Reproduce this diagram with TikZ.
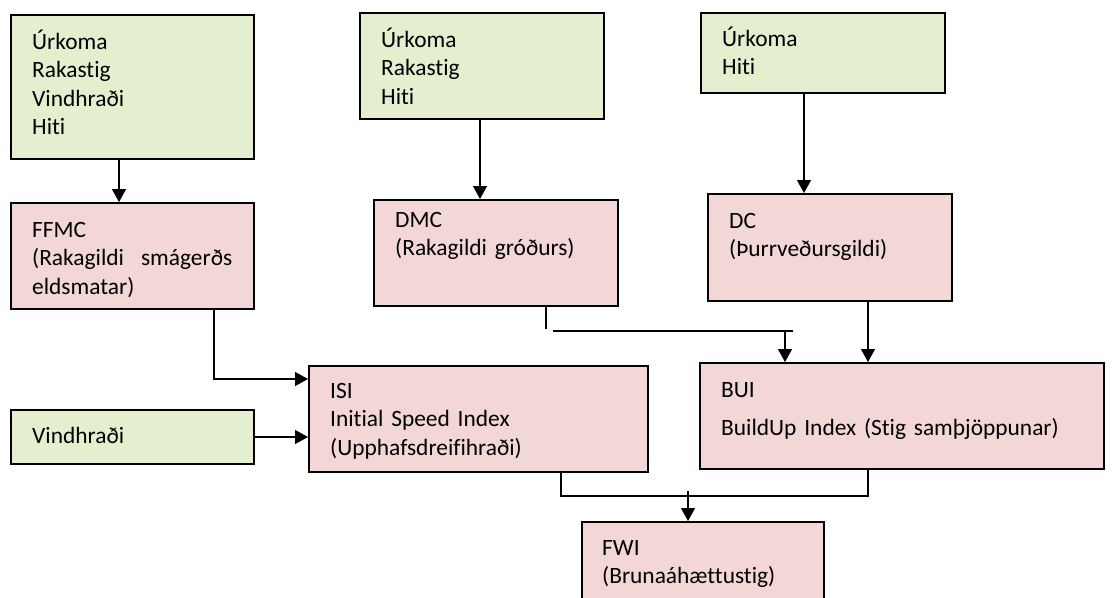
\documentclass[tikz,border=0pt]{standalone}
\usepackage{fontspec}
\setmainfont{Carlito}[Ligatures={NoCommon}]
\usetikzlibrary{arrows.meta,calc}
\definecolor{gfill}{RGB}{227,239,207}
\definecolor{pfill}{RGB}{243,214,214}
\begin{document}
\begin{tikzpicture}[x=1pt,y=-1pt,
  box/.style={draw=black, line width=1.8pt, rectangle, inner sep=0pt, anchor=north west},
  gbox/.style={box, fill=gfill},
  pbox/.style={box, fill=pfill},
  txt/.style={anchor=base west, inner sep=0pt, align=left, text width=360pt,
    font=\fontsize{23.4}{28.5}\selectfont},
  link/.style={line width=1.3pt},
  arr/.style={link, -{Triangle[length=13pt,width=14pt]}}]
\useasboundingbox (0,0) rectangle (1119,597);
\clip (0,0) rectangle (1119,597);

% boxes
\node[gbox, minimum width=243pt, minimum height=144pt] (b1) at (10,14) {};
\node[pbox, minimum width=243pt, minimum height=106pt] (ffmc) at (10,202) {};
\node[gbox, minimum width=244pt, minimum height=106pt] (b2) at (359,12) {};
\node[pbox, minimum width=244pt, minimum height=106pt] (dmc) at (373,199) {};
\node[gbox, minimum width=244pt, minimum height=80pt] (b3) at (700,12) {};
\node[pbox, minimum width=244pt, minimum height=107pt] (dc) at (707,193) {};
\node[gbox, minimum width=243pt, minimum height=54pt] (vind) at (10,409) {};
\node[pbox, minimum width=339pt, minimum height=106pt] (isi) at (308,365) {};
\node[pbox, minimum width=404pt, minimum height=106pt] (bui) at (699,362) {};
\node[pbox, minimum width=242pt, minimum height=106pt] (fwi) at (581,521) {};

% texts
\node[txt] (b1t) at ($(b1.north west)+(22,35)$) {Úrkoma\\Rakastig\\Vindhraði\\Hiti};
\node[txt, text width=200pt] (ffmct) at ($(ffmc.north west)+(22,35)$) {FFMC\\(Rakagildi\hfill smágerðs\\eldsmatar)};
\node[txt] (b2t) at ($(b2.north west)+(22,35)$) {Úrkoma\\Rakastig\\Hiti};
\node[txt] (dmct) at ($(dmc.north west)+(22,28)$) {DMC\\(Rakagildi gróðurs)};
\node[txt] (b3t) at ($(b3.north west)+(22,34)$) {Úrkoma\\Hiti};
\node[txt] (dct) at ($(dc.north west)+(22,35)$) {DC\\(Þurrveðursgildi)};
\node[txt] (vindt) at ($(vind.north west)+(22,34)$) {Vindhraði};
\node[txt] (isit) at ($(isi.north west)+(22,33)$) {ISI\\Initial Speed Index\\(Upphafsdreifihraði)};
\node[txt] (buit) at ($(bui.north west)+(22,35)$) {BUI\\[10pt]BuildUp Index (Stig samþjöppunar)};
\node[txt] (fwit) at ($(fwi.north west)+(21,34)$) {FWI\\(Brunaáhættustig)};

% connectors
\draw[arr] (b1.south -| 119,0) -- (ffmc.north -| 119,0);
\draw[arr] (b2.south -| 480,0) -- (dmc.north -| 480,0);
\draw[arr] (b3.south -| 804,0) -- (dc.north -| 804,0);

\coordinate (dmcend) at (546,329);
\coordinate (hstart) at (553,331);
\coordinate (hend) at (793,331);
\draw[link] (dmc.south -| dmcend) -- (dmcend);
\draw[link] (hstart) -- (hend);
\draw[arr] (785,331) -- (bui.north -| 785,0);
\draw[arr] (dc.south -| 868,0) -- (bui.north -| 868,0);

\draw[arr] (ffmc.south -| 214,0) |- (isi.west |- 0,379);
\draw[arr] (vind.east |- 0,437) -- (isi.west |- 0,437);

\coordinate (join) at (688,496);
\draw[link] (isi.south -| 561,0) |- (join) -| (bui.south -| 868,0);
\draw[arr] (688,491) -- (fwi.north -| join);
\end{tikzpicture}
\end{document}
